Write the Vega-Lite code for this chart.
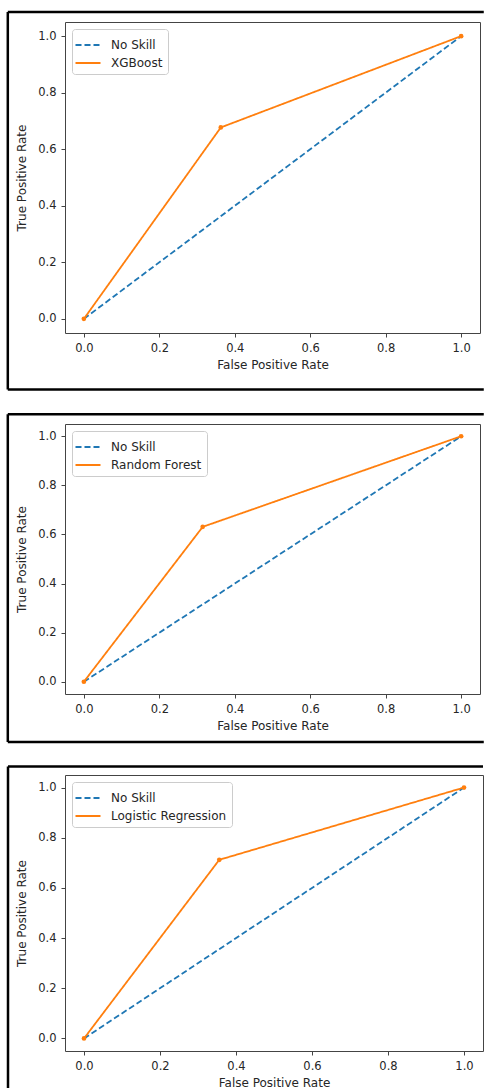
{
  "$schema": "https://vega.github.io/schema/vega-lite/v6.json",
  "background": "white",
  "padding": {"left": 6, "top": 10, "right": 0, "bottom": 0},
  "spacing": 20,
  "config": {
    "view": {"stroke": "#444444", "strokeWidth": 1},
    "font": "DejaVu Sans",
    "axis": {"grid": false, "domain": false, "tickColor": "#444444", "tickSize": 4, "tickWidth": 1, "labelFont": "DejaVu Sans", "labelFontSize": 11.5, "labelColor": "#262626", "titleFont": "DejaVu Sans", "titleFontSize": 12, "titleFontWeight": "normal", "titleColor": "#262626", "labelPadding": 5},
    "axisX": {"titlePadding": 6},
    "axisY": {"titlePadding": 9},
    "legend": {"orient": "top-left", "offset": 7, "strokeColor": "#cccccc", "fillColor": "white", "cornerRadius": 3, "padding": 5, "labelFont": "DejaVu Sans", "labelFontSize": 12, "labelColor": "#262626", "symbolType": "M-1.25,0H1.25", "symbolSize": 400, "symbolStrokeWidth": 1.8, "labelOffset": 12, "rowPadding": 1}
  },
  "resolve": {"scale": {"color": "independent", "strokeDash": "independent"}, "legend": {"color": "independent", "strokeDash": "independent"}},
  "vconcat": [
    {
      "width": 415, "height": 311,
      "data": {"values": [
        {"series": "No Skill", "fpr": 0, "tpr": 0},
        {"series": "No Skill", "fpr": 1, "tpr": 1},
        {"series": "XGBoost", "fpr": 0, "tpr": 0},
        {"series": "XGBoost", "fpr": 0.363, "tpr": 0.677},
        {"series": "XGBoost", "fpr": 1, "tpr": 1}
      ]},
      "layer": [
        {"mark": {"type": "line", "strokeWidth": 1.8},
         "encoding": {
           "x": {"field": "fpr", "type": "quantitative", "scale": {"domain": [-0.05, 1.05], "nice": false, "zero": false}, "axis": {"title": "False Positive Rate", "values": [0, 0.2, 0.4, 0.6, 0.8, 1], "format": ".1f"}},
           "y": {"field": "tpr", "type": "quantitative", "scale": {"domain": [-0.05, 1.05], "nice": false, "zero": false}, "axis": {"title": "True Positive Rate", "values": [0, 0.2, 0.4, 0.6, 0.8, 1], "format": ".1f"}},
           "color": {"field": "series", "type": "nominal", "scale": {"domain": ["No Skill", "XGBoost"], "range": ["#1f77b4", "#ff7f0e"]}, "legend": {"title": null}},
           "strokeDash": {"field": "series", "type": "nominal", "scale": {"domain": ["No Skill", "XGBoost"], "range": [[6, 3], [1, 0]]}, "legend": {"title": null}}
         }},
        {"transform": [{"filter": "datum.series != 'No Skill'"}],
         "mark": {"type": "point", "filled": true, "size": 22, "opacity": 1, "color": "#ff7f0e"},
         "encoding": {"x": {"field": "fpr", "type": "quantitative"}, "y": {"field": "tpr", "type": "quantitative"}}},
        {"data": {"values": [{}]}, "mark": {"type": "rule", "color": "#000000", "strokeWidth": 2.5},
         "encoding": {"x": {"datum": -0.2016}, "y": {"datum": -0.25}, "y2": {"datum": 1.085}}},
        {"data": {"values": [{}]}, "mark": {"type": "rule", "color": "#000000", "strokeWidth": 2.5},
         "encoding": {"x": {"datum": -0.2016}, "x2": {"datum": 1.06}, "y": {"datum": 1.085}}},
        {"data": {"values": [{}]}, "mark": {"type": "rule", "color": "#000000", "strokeWidth": 2.5},
         "encoding": {"x": {"datum": -0.2016}, "x2": {"datum": 1.06}, "y": {"datum": -0.25}}}
      ]
    },
    {
      "width": 415, "height": 270,
      "data": {"values": [
        {"series": "No Skill", "fpr": 0, "tpr": 0},
        {"series": "No Skill", "fpr": 1, "tpr": 1},
        {"series": "Random Forest", "fpr": 0, "tpr": 0},
        {"series": "Random Forest", "fpr": 0.315, "tpr": 0.631},
        {"series": "Random Forest", "fpr": 1, "tpr": 1}
      ]},
      "layer": [
        {"mark": {"type": "line", "strokeWidth": 1.8},
         "encoding": {
           "x": {"field": "fpr", "type": "quantitative", "scale": {"domain": [-0.05, 1.05], "nice": false, "zero": false}, "axis": {"title": "False Positive Rate", "values": [0, 0.2, 0.4, 0.6, 0.8, 1], "format": ".1f"}},
           "y": {"field": "tpr", "type": "quantitative", "scale": {"domain": [-0.05, 1.05], "nice": false, "zero": false}, "axis": {"title": "True Positive Rate", "values": [0, 0.2, 0.4, 0.6, 0.8, 1], "format": ".1f"}},
           "color": {"field": "series", "type": "nominal", "scale": {"domain": ["No Skill", "Random Forest"], "range": ["#1f77b4", "#ff7f0e"]}, "legend": {"title": null}},
           "strokeDash": {"field": "series", "type": "nominal", "scale": {"domain": ["No Skill", "Random Forest"], "range": [[6, 3], [1, 0]]}, "legend": {"title": null}}
         }},
        {"transform": [{"filter": "datum.series != 'No Skill'"}],
         "mark": {"type": "point", "filled": true, "size": 22, "opacity": 1, "color": "#ff7f0e"},
         "encoding": {"x": {"field": "fpr", "type": "quantitative"}, "y": {"field": "tpr", "type": "quantitative"}}},
        {"data": {"values": [{}]}, "mark": {"type": "rule", "color": "#000000", "strokeWidth": 2.5},
         "encoding": {"x": {"datum": -0.2016}, "y": {"datum": -0.2456}, "y2": {"datum": 1.0897}}},
        {"data": {"values": [{}]}, "mark": {"type": "rule", "color": "#000000", "strokeWidth": 2.5},
         "encoding": {"x": {"datum": -0.2016}, "x2": {"datum": 1.06}, "y": {"datum": 1.0897}}},
        {"data": {"values": [{}]}, "mark": {"type": "rule", "color": "#000000", "strokeWidth": 2.5},
         "encoding": {"x": {"datum": -0.2016}, "x2": {"datum": 1.06}, "y": {"datum": -0.2456}}}
      ]
    },
    {
      "width": 418, "height": 276,
      "data": {"values": [
        {"series": "No Skill", "fpr": 0, "tpr": 0},
        {"series": "No Skill", "fpr": 1, "tpr": 1},
        {"series": "Logistic Regression", "fpr": 0, "tpr": 0},
        {"series": "Logistic Regression", "fpr": 0.356, "tpr": 0.712},
        {"series": "Logistic Regression", "fpr": 1, "tpr": 1}
      ]},
      "layer": [
        {"mark": {"type": "line", "strokeWidth": 1.8},
         "encoding": {
           "x": {"field": "fpr", "type": "quantitative", "scale": {"domain": [-0.05, 1.05], "nice": false, "zero": false}, "axis": {"title": "False Positive Rate", "values": [0, 0.2, 0.4, 0.6, 0.8, 1], "format": ".1f"}},
           "y": {"field": "tpr", "type": "quantitative", "scale": {"domain": [-0.05, 1.05], "nice": false, "zero": false}, "axis": {"title": "True Positive Rate", "values": [0, 0.2, 0.4, 0.6, 0.8, 1], "format": ".1f"}},
           "color": {"field": "series", "type": "nominal", "scale": {"domain": ["No Skill", "Logistic Regression"], "range": ["#1f77b4", "#ff7f0e"]}, "legend": {"title": null}},
           "strokeDash": {"field": "series", "type": "nominal", "scale": {"domain": ["No Skill", "Logistic Regression"], "range": [[6, 3], [1, 0]]}, "legend": {"title": null}}
         }},
        {"transform": [{"filter": "datum.series != 'No Skill'"}],
         "mark": {"type": "point", "filled": true, "size": 22, "opacity": 1, "color": "#ff7f0e"},
         "encoding": {"x": {"field": "fpr", "type": "quantitative"}, "y": {"field": "tpr", "type": "quantitative"}}},
        {"data": {"values": [{}]}, "mark": {"type": "rule", "color": "#000000", "strokeWidth": 2.5},
         "encoding": {"x": {"datum": -0.2}, "y": {"datum": -0.21}, "y2": {"datum": 1.0839}}},
        {"data": {"values": [{}]}, "mark": {"type": "rule", "color": "#000000", "strokeWidth": 2.5},
         "encoding": {"x": {"datum": -0.2}, "x2": {"datum": 1.05}, "y": {"datum": 1.0839}}}
      ]
    }
  ]
}
